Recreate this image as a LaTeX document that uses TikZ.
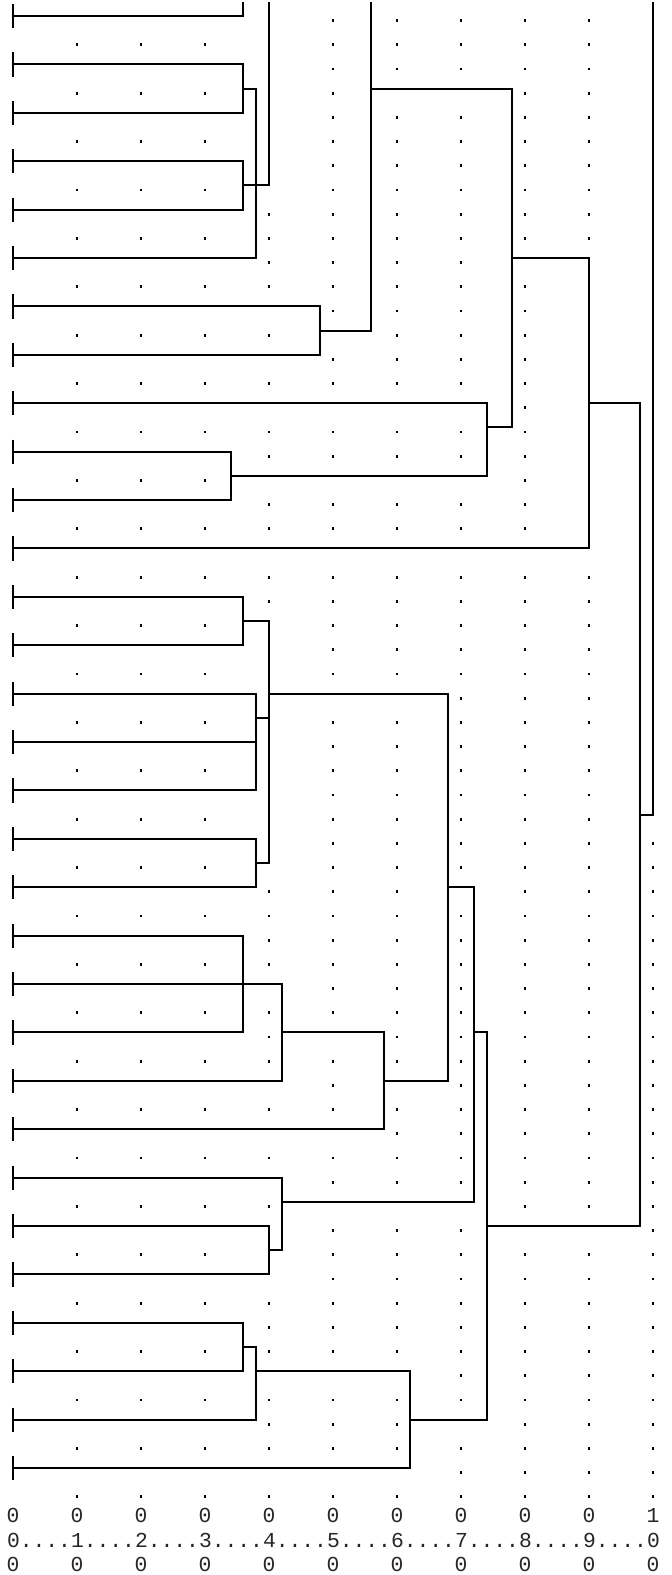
\documentclass[tikz,border=0pt]{standalone}
\usepackage{fontspec}
\setmonofont{Liberation Mono}
\begin{document}
\begin{tikzpicture}[x=6.4pt,y=-12.1pt,
  branch/.style={line width=1pt, line cap=rect},
  leaftick/.style={line width=1pt},
  griddot/.style={fill=black},
  axislabel/.style={font=\ttfamily\fontsize{10.6667pt}{12pt}\selectfont, text=black!85, inner sep=0pt, anchor=base}]
\useasboundingbox (-1.015625,-0.66116) rectangle (51.484375,64.42149);
\def\gdot#1#2{\fill[griddot] ([xshift=-0.7pt,yshift=-0.7pt]#1,#2+0.19) rectangle ([xshift=0.7pt,yshift=0.7pt]#1,#2+0.19);}

% grid dots
\foreach \c in {5,10,15} {
  \foreach \r in {1,3,...,61} {
    \gdot{\c}{\r}
  }
}
\foreach \c/\a/\b in {
  20/8/11, 20/13/13, 20/15/15, 20/17/18, 20/20/21, 20/23/24, 20/36/39, 20/41/43,
  20/45/45, 20/47/47, 20/49/49, 20/53/55, 20/57/59, 20/61/61,
  25/0/12, 25/14/15, 25/17/18, 25/20/21, 25/23/27, 25/29/41, 25/43/45, 25/47/48,
  25/50/55, 25/57/59, 25/61/61,
  30/0/2, 30/4/15, 30/17/18, 30/20/21, 30/23/27, 30/29/43, 30/45/48, 30/50/55,
  30/57/59, 30/61/61,
  35/0/2, 35/4/15, 35/17/18, 35/20/21, 35/23/35, 35/37/48, 35/50/57, 35/59/61,
  40/0/9, 40/11/21, 40/23/49, 40/51/61,
  45/0/9, 45/23/49, 45/51/61,
  50/34/61} {
  \foreach \r in {\a,...,\b} {
    \gdot{\c}{\r}
  }
}

% leaves
\foreach \i/\e in {0/18,1/18,2/18,3/18,4/18,5/19,6/24,7/24,8/37,9/17,10/17,11/45,
  12/18,13/18,14/19,15/19,16/19,17/19,18/19,19/18,20/21,21/18,22/21,23/29,24/21,
  25/20,26/20,27/18,28/18,29/19,30/31} {
  \coordinate (L\i) at (0,2*\i);
  \draw[leaftick] (0,2*\i-0.5) -- (0,2*\i+0.5);
  \draw[branch] (L\i) -- ++(\e,0);
}

% vertical branches
\foreach \c/\a/\b in {18/-0.55/0, 20/-0.55/7, 28/-0.55/13, 50/-0.55/33,
  18/2/4, 19/3/10, 18/6/8, 24/12/14, 39/3/17, 37/16/19, 17/18/20, 45/10/22,
  49/16/50, 18/24/26, 20/25/35, 19/28/32, 19/34/36, 34/28/44, 18/38/42,
  21/40/44, 29/42/46, 36/36/49, 37/42/58, 21/48/51, 20/50/52, 18/54/56,
  19/55/58, 31/56/60}
  \draw[branch] (\c,\a) -- (\c,\b);

% horizontal branches
\foreach \r/\a/\b in {3/18/19, 7/18/20, 13/24/28, 3/28/39, 10/39/45, 19/17/37,
  17/37/39, 16/45/49, 33/49/50, 25/18/20, 28/20/34, 29/19/20, 35/19/20,
  36/34/36, 42/21/29, 44/29/34, 42/36/37, 49/21/36, 50/37/49, 51/20/21,
  55/18/19, 56/19/31, 58/31/37}
  \draw[branch] (\a,\r) -- (\b,\r);

% scale
\foreach \c in {0,5,...,45}
  \node[axislabel] (top\c) at (\c,62.27) {0};
\node[axislabel] (top50) at (50,62.27) {1};
\node[axislabel, anchor=base west] (scale) at (-0.5,63.27) {0....1....2....3....4....5....6....7....8....9....0};
\foreach \c in {0,5,...,50}
  \node[axislabel] (bot\c) at (\c,64.27) {0};
\end{tikzpicture}
\end{document}
